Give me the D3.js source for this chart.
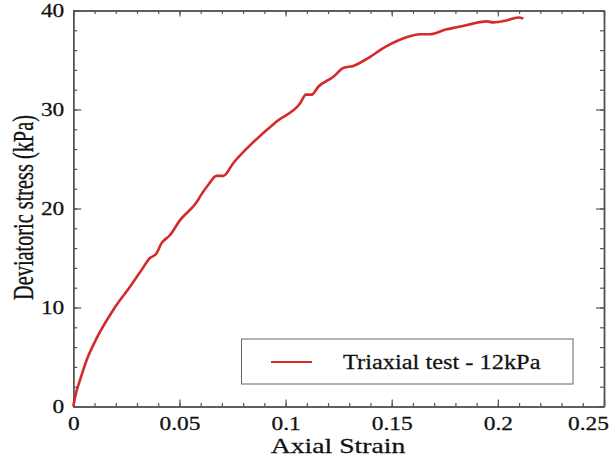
<!DOCTYPE html>
<html><head><meta charset="utf-8">
<script src="https://cdn.jsdelivr.net/npm/d3@7"></script>
<style>body{margin:0;background:#fff}svg{display:block}</style>
</head><body>
<svg id="chart" width="610" height="457"></svg>
<script>
const strain = [0, 0.001, 0.002, 0.0032, 0.0063, 0.011, 0.0188, 0.0267, 0.0322, 0.0361, 0.039, 0.0416, 0.0455, 0.0502, 0.0589, 0.0597, 0.0636, 0.0675, 0.0707, 0.0754, 0.0848, 0.0958, 0.1068, 0.1096, 0.1123, 0.1154, 0.1225, 0.1272, 0.1319, 0.1374, 0.1476, 0.157, 0.1633, 0.168, 0.1759, 0.1806, 0.1868, 0.1947, 0.1978, 0.2041, 0.2096, 0.212];
const stress = [0, 1.1, 1.9, 2.7, 4.7, 6.9, 9.75, 12.1, 13.8, 15.0, 15.4, 16.5, 17.3, 18.8, 20.9, 21.2, 22.4, 23.3, 23.3, 24.6, 26.7, 28.8, 30.6, 31.5, 31.5, 32.3, 33.3, 34.2, 34.4, 35.0, 36.4, 37.3, 37.6, 37.6, 38.1, 38.3, 38.6, 38.9, 38.8, 39.0, 39.3, 39.2];
const xTicks = [0, 0.05, 0.1, 0.15, 0.2, 0.25];
const xTickLabels = ["0", "0.05", "0.1", "0.15", "0.2", "0.25"];
const yTicks = [0, 10, 20, 30, 40];
const seriesName = "Triaxial test - 12kPa";
const xTitle = "Axial Strain";
const yTitle = "Deviatoric stress (kPa)";

(function(){
const FONT = '"Liberation Serif", "Times New Roman", serif';
const SX = 1.3;
const svg = d3.select("#chart");
const L = 73.3, R = 604, T = 10.5, B = 406.5;
const x = d3.scaleLinear().domain([0, 0.25]).range([L, R]);
const y = d3.scaleLinear().domain([0, 40]).range([B, T]);
const axisColor = "#555";

const xMinor = d3.range(0, 0.2501, 0.01);
const yMinor = d3.range(0, 40.01, 2);

const gBot = svg.append("g").attr("transform", `translate(0,${B})`)
  .call(d3.axisBottom(x).tickValues(xTicks).tickFormat((d,i)=>xTickLabels[i]).tickSizeInner(-7).tickSizeOuter(0).tickPadding(13));
gBot.selectAll(".tick text").attr("dy", "0.6em")
  .attr("transform", (d,i)=> i === xTicks.length-1 ? `translate(-16,0) scale(${SX},1)` : `scale(${SX},1)`);
svg.append("g").attr("transform", `translate(0,${B})`)
  .call(d3.axisBottom(x).tickValues(xMinor).tickFormat("").tickSizeInner(-3.5).tickSizeOuter(0));
svg.append("g").attr("transform", `translate(0,${T})`)
  .call(d3.axisTop(x).tickValues(xTicks).tickFormat("").tickSizeInner(-6).tickSizeOuter(0));
svg.append("g").attr("transform", `translate(0,${T})`)
  .call(d3.axisTop(x).tickValues(xMinor).tickFormat("").tickSizeInner(-3.5).tickSizeOuter(0));
const gLeft = svg.append("g").attr("transform", `translate(${L},0)`)
  .call(d3.axisLeft(y).tickValues(yTicks).tickFormat(d3.format("d")).tickSizeInner(-8).tickSizeOuter(0).tickPadding(0));
gLeft.selectAll(".tick text").attr("dy", "0.35em").attr("x", 0)
  .attr("transform", `translate(-9,0) scale(${SX},1)`);
svg.append("g").attr("transform", `translate(${L},0)`)
  .call(d3.axisLeft(y).tickValues(yMinor).tickFormat("").tickSizeInner(-4).tickSizeOuter(0));
svg.append("g").attr("transform", `translate(${R},0)`)
  .call(d3.axisRight(y).tickValues(yTicks).tickFormat("").tickSizeInner(-8).tickSizeOuter(0));
svg.append("g").attr("transform", `translate(${R},0)`)
  .call(d3.axisRight(y).tickValues(yMinor).tickFormat("").tickSizeInner(-4).tickSizeOuter(0));

svg.selectAll(".domain").attr("stroke", axisColor).attr("stroke-width", 1.5);
svg.selectAll(".tick line").attr("stroke", axisColor).attr("stroke-width", 1.2);
svg.selectAll(".tick text").style("font-family", FONT).style("font-size", "18px").style("fill", "#111")
  .style("stroke", "#111").style("stroke-width", "0.25px");

const pts = strain.map((s,i)=>[s, stress[i]]);
svg.append("path").datum(pts)
  .attr("fill", "none").attr("stroke", "#d42a2a").attr("stroke-width", 2.6).attr("stroke-linejoin", "round")
  .attr("d", d3.line().curve(d3.curveMonotoneX).x(d=>x(d[0])).y(d=>y(d[1])));

function styleText(sel, size){
  return sel.style("font-family", FONT).style("font-size", size + "px").style("fill", "#111")
    .style("stroke", "#111").style("stroke-width", "0.25px");
}
styleText(svg.append("text").attr("transform", `translate(338,453) scale(1.35,1)`).attr("text-anchor", "middle"), 20.5).text(xTitle);
styleText(svg.append("text").attr("transform", `translate(33,${(112+303)/2}) rotate(-90) scale(1,1.4)`).attr("text-anchor", "middle"), 20.3).text(yTitle);

const lg = svg.append("g");
lg.append("rect").attr("x", 241.5).attr("y", 339).attr("width", 331.5).attr("height", 45)
  .attr("fill", "#fff").attr("stroke", "#666").attr("stroke-width", 1);
lg.append("line").attr("x1", 271).attr("x2", 312).attr("y1", 362).attr("y2", 362)
  .attr("stroke", "#d42a2a").attr("stroke-width", 2);
styleText(lg.append("text").attr("transform", "translate(343,369) scale(1.19,1)"), 20.5).text(seriesName);
})();
</script>
</body></html>
